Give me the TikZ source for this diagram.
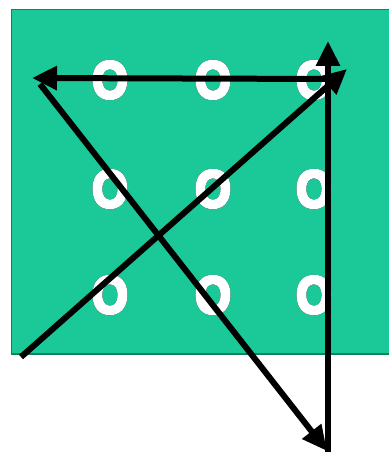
\documentclass[tikz,border=0pt]{standalone}
\usepackage{fontspec}
\setmainfont{Liberation Sans}
\newfontfamily\heavyfont[FakeBold=7]{Liberation Sans Bold}
\usepackage{graphicx}
\usepackage[outline]{contour}
\contourlength{0.8pt}
\usetikzlibrary{arrows.meta}
\definecolor{boardgreen}{RGB}{26,200,152}
\definecolor{boardedge}{RGB}{12,130,95}
\begin{document}
\begin{tikzpicture}[x=1pt,y=-1pt,
  dotmark/.style={inner sep=0pt,font=\heavyfont\fontsize{52}{52}\selectfont,text=white},
  movearrow/.style={line width=6pt,black,-{Triangle[length=25pt,width=23pt]}}]
\useasboundingbox (0,0) rectangle (388,454);
\fill[white] (0,0) rectangle (388,454);
\filldraw[fill=boardgreen,draw=boardedge,line width=1.2pt] (11.5,9.5) rectangle (390,354);
% dots
\foreach \c/\x in {1/110,2/213,3/314}{
  \foreach \r/\y in {1/80,2/189,3/295}{
    \node[dotmark] (d\r\c) at (\x,\y) {\scalebox{0.88}[1]{\contour{black}{O}}};
  }
}
% path points
\coordinate (s1) at (21,357);
\coordinate (e1) at (347,69);
\coordinate (s2) at (328,452);
\coordinate (e2) at (328,41);
\coordinate (s3) at (331,79);
\coordinate (e3) at (32,78);
\coordinate (s4) at (40,84);
\coordinate (e4) at (327,451);
\draw[movearrow] (s1) -- (e1);
\draw[movearrow] (s2) -- (e2);
\draw[movearrow] (s3) -- (e3);
\draw[movearrow] (s4) -- (e4);
\end{tikzpicture}
\end{document}
